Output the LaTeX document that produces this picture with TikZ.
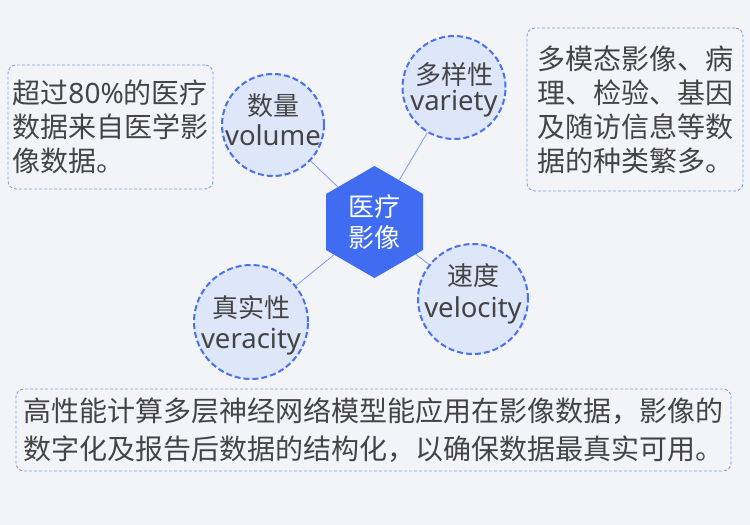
\documentclass[tikz,border=0pt]{standalone}
\usepackage{fontspec}
\setmainfont{Noto Sans CJK SC}
\newfontfamily\lat{Noto Sans}
\usetikzlibrary{shapes.geometric}
\definecolor{bgcol}{RGB}{243,244,248}
\definecolor{hexcol}{RGB}{63,108,240}
\definecolor{bubfill}{RGB}{222,230,250}
\definecolor{bubline}{RGB}{72,114,240}
\definecolor{notecol}{RGB}{125,158,240}
\definecolor{linkcol}{RGB}{125,155,235}
\definecolor{txt}{RGB}{68,68,68}
\tikzset{
	bubble/.style={circle, draw=bubline, fill=bubfill, line width=2pt, dash pattern=on 6pt off 3pt, inner sep=0pt},
	zhword/.style={anchor=base, inner sep=0pt, text=txt, font=\fontsize{26}{26}\selectfont},
	enword/.style={anchor=base, inner sep=0pt, text=txt, font=\fontsize{27.5}{27.5}\lat},
	note/.style={draw=notecol, line width=0.9pt, dash pattern=on 3pt off 2pt, rounded corners=8pt, inner sep=0pt, text=txt, align=left, font=\fontsize{28}{34}\selectfont},
	core/.style={regular polygon, regular polygon sides=6, shape border rotate=30, fill=hexcol, minimum size=112pt, inner sep=0pt, text=white, align=center, font=\fontsize{26}{31}\selectfont},
	link/.style={draw=linkcol, line width=0.8pt}
}

\begin{document}
\begin{tikzpicture}[x=1pt, y=-1pt]
		%%%%% START %%%%%
		\fill[bgcol] (0, 0) rectangle (750, 525);
		\useasboundingbox (0, 0) rectangle (750, 525);
		
		\node[core] (hex) at (374.5, 222) {医疗\\影像};
		
		\node[bubble, minimum size=102pt] (vol) at (273, 125) {};
		\node[bubble, minimum size=103pt] (var) at (454, 87.5) {};
		\node[bubble, minimum size=110pt] (vel) at (473, 299) {};
		\node[bubble, minimum size=114pt] (ver) at (251, 322) {};
		
		\draw[link] (hex) -- (vol);
		\draw[link] (hex) -- (var);
		\draw[link] (hex) -- (vel);
		\draw[link] (hex) -- (ver);
		
		\node[zhword] (volzh) at (273, 115) {数量};
		\node[enword] (volen) at (273, 145) {volume};
		\node[zhword] (varzh) at (454, 84) {多样性};
		\node[enword] (varen) at (454, 110) {variety};
		\node[zhword] (velzh) at (473, 285) {速度};
		\node[enword] (velen) at (473, 317) {velocity};
		\node[zhword] (verzh) at (251, 317) {真实性};
		\node[enword] (veren) at (251, 348) {veracity};
		
		\node[note, minimum width=205pt, minimum height=124pt] (volnote) at (110.5, 127) {超过{\lat 80\%}的医疗\\数据来自医学影\\像数据。};
		\node[note, minimum width=216pt, minimum height=163pt] (varnote) at (635, 109.5) {多模态影像、病\\理、检验、基因\\及随访信息等数\\据的种类繁多。};
		\node[note, minimum width=715pt, minimum height=82pt, font=\fontsize{28}{38}\selectfont] (vernote) at (373.5, 430) {高性能计算多层神经网络模型能应用在影像数据，影像的\\数字化及报告后数据的结构化，以确保数据最真实可用。};
		%%%%% END %%%%%
	\end{tikzpicture}
\end{document}
